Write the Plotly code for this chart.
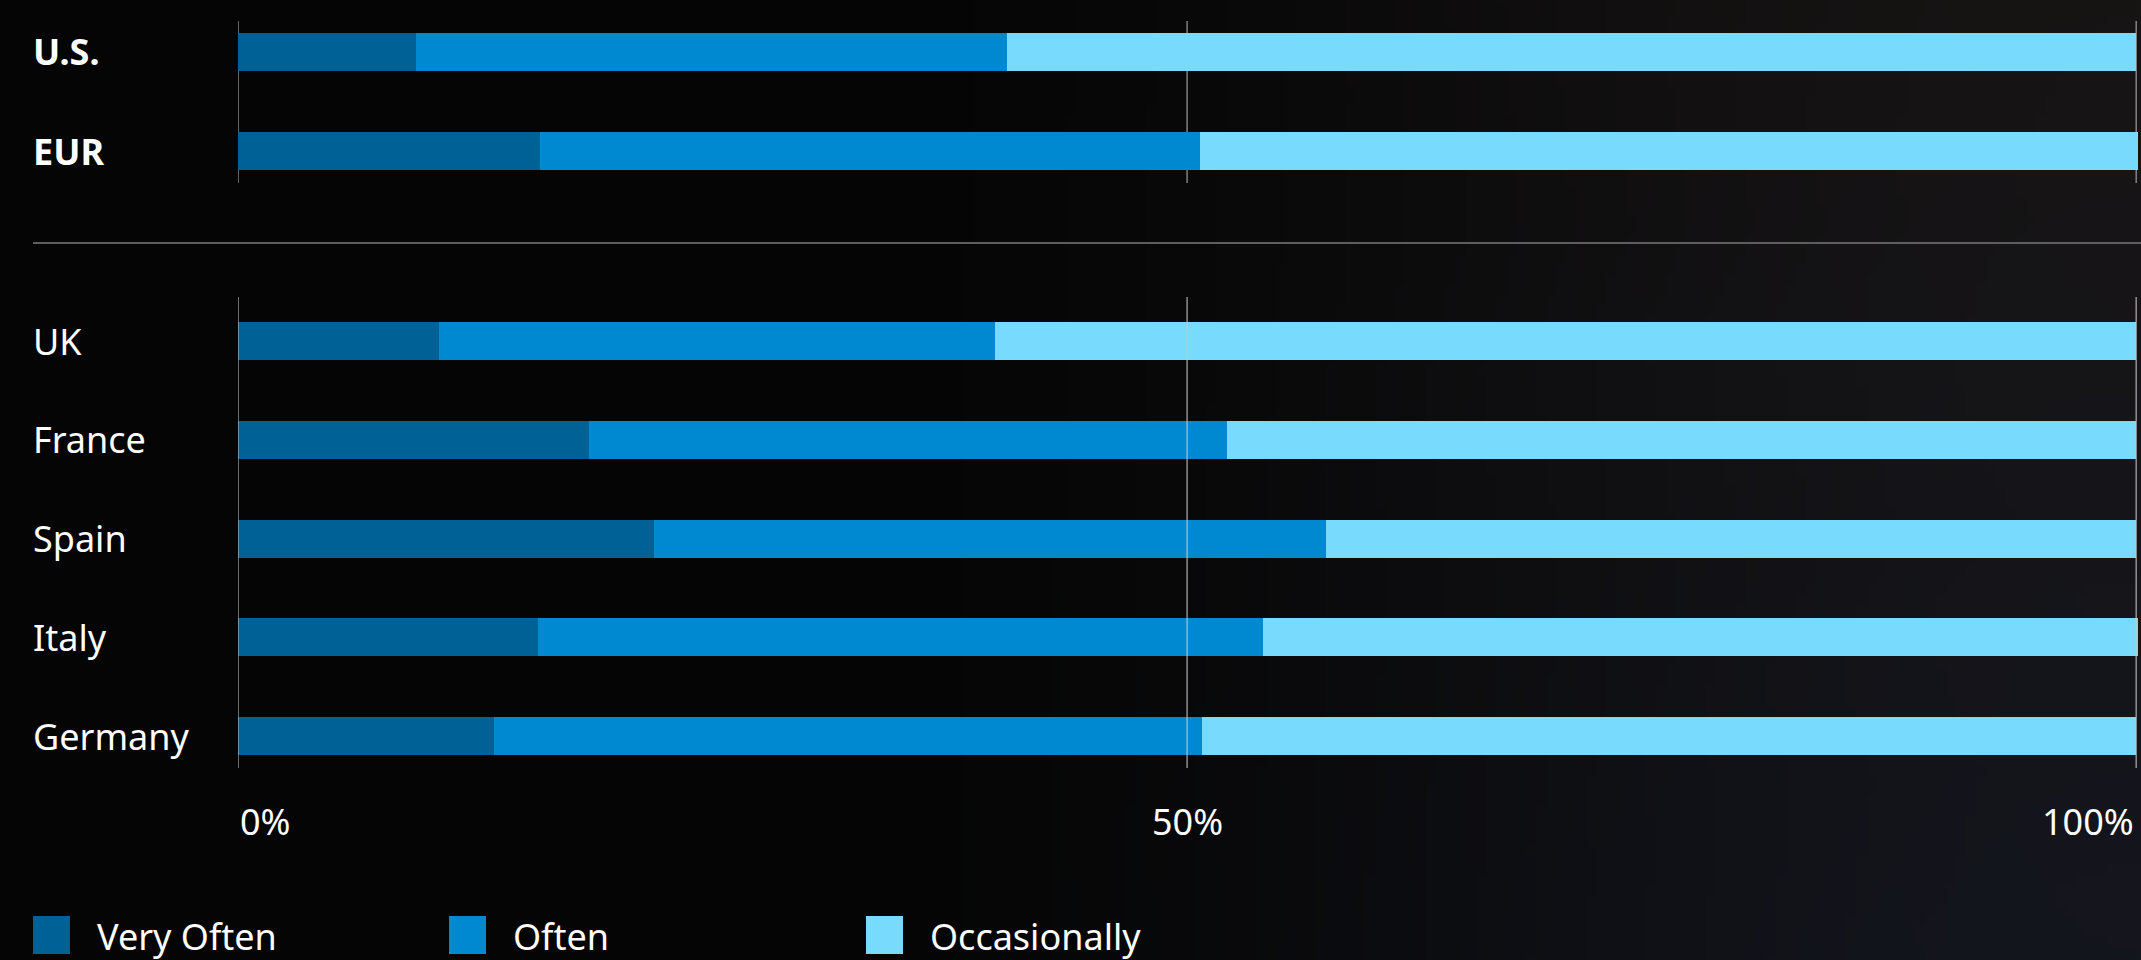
import base64
import struct
import zlib

import numpy as np
import plotly.graph_objects as go

# ---------------- data ----------------
summary_regions = ["U.S.", "EUR"]
countries = ["UK", "France", "Spain", "Italy", "Germany"]
series_names = ["Very Often", "Often", "Occasionally"]
series_colors = ["#006196", "#0089D1", "#78DBFE"]

summary_very_often = [9.4, 15.9]
summary_often = [31.1, 34.8]
summary_occasionally = [59.5, 49.4]

country_very_often = [10.6, 18.5, 21.9, 15.8, 13.5]
country_often = [29.3, 33.6, 35.4, 38.2, 37.3]
country_occasionally = [60.1, 47.9, 42.7, 46.1, 49.2]

tick_values = [0, 50, 100]
tick_labels = ["0%", "50%", "100%"]

# ---------------- canvas ----------------
W, H = 2141, 960


def px_x(p):
    return p / W


def px_y(p):
    return 1 - p / H


# dark background gradient (decor only)
def make_bg_png(w=214, h=96):
    xs = np.linspace(0, 1, w)[None, :]
    ys = np.linspace(0, 1, h)[:, None]
    t = np.clip((xs - 0.35) / 0.65, 0, 1)
    t = t * t * (3 - 2 * t)
    base = 5 + 15 * t + 0 * ys
    r = base + 3 * t * (1 - ys)
    g = base + 2 * t * ys
    b = base + 10 * t * ys
    arr = np.stack([r, g, b], axis=-1).clip(0, 255).astype(np.uint8)
    raw = b"".join(b"\x00" + arr[y].tobytes() for y in range(h))

    def chunk(tag, data):
        return (struct.pack(">I", len(data)) + tag + data
                + struct.pack(">I", zlib.crc32(tag + data) & 0xFFFFFFFF))

    png = (b"\x89PNG\r\n\x1a\n"
           + chunk(b"IHDR", struct.pack(">IIBBBBB", w, h, 8, 2, 0, 0, 0))
           + chunk(b"IDAT", zlib.compress(raw, 9))
           + chunk(b"IEND", b""))
    return "data:image/png;base64," + base64.b64encode(png).decode()


FONT = "Noto Sans"
FS = 36

fig = go.Figure()

top_sets = [summary_very_often, summary_often, summary_occasionally]
bot_sets = [country_very_often, country_often, country_occasionally]

for name, color, vals in zip(series_names, series_colors, top_sets):
    fig.add_trace(go.Bar(
        x=vals, y=summary_regions, orientation="h", name=name,
        marker=dict(color=color, line=dict(width=0)),
        width=0.384, xaxis="x", yaxis="y", showlegend=False,
        hoverinfo="skip",
    ))
for name, color, vals in zip(series_names, series_colors, bot_sets):
    fig.add_trace(go.Bar(
        x=vals, y=countries, orientation="h", name=name,
        marker=dict(color=color, line=dict(width=0)),
        width=0.385, xaxis="x2", yaxis="y2", showlegend=False,
        hoverinfo="skip",
    ))

x_dom = [px_x(238), px_x(2140)]
x_common = dict(domain=x_dom, range=[0, 100.2], showgrid=False, zeroline=False,
                showticklabels=False, showline=False, fixedrange=True)

fig.update_layout(
    width=W, height=H,
    margin=dict(l=0, r=0, t=0, b=0),
    paper_bgcolor="#0a0a0a",
    plot_bgcolor="rgba(0,0,0,0)",
    barmode="stack",
    showlegend=False,
    font=dict(family=FONT, size=FS, color="#ffffff"),
    xaxis=dict(**x_common, anchor="y"),
    xaxis2=dict(**x_common, anchor="y2"),
    yaxis=dict(domain=[px_y(183), px_y(21)], type="category",
               categoryarray=summary_regions, range=[1.323, -0.313],
               showgrid=False, zeroline=False, showticklabels=False,
               fixedrange=True, anchor="x"),
    yaxis2=dict(domain=[px_y(768), px_y(297)], type="category",
                categoryarray=countries, range=[4.324, -0.446],
                showgrid=False, zeroline=False, showticklabels=False,
                fixedrange=True, anchor="x2"),
    images=[dict(source=make_bg_png(), xref="paper", yref="paper",
                 x=0, y=1, sizex=1, sizey=1, sizing="stretch",
                 xanchor="left", yanchor="top", layer="below")],
)

shapes = []
# vertical reference lines at the axis ticks
for v in tick_values:
    shapes.append(dict(type="line", xref="x", yref="y domain", x0=v, x1=v,
                       y0=0, y1=1, layer="below",
                       line=dict(color="rgba(170,170,170,0.75)", width=1.5)))
    shapes.append(dict(type="line", xref="x2", yref="y2 domain", x0=v, x1=v,
                       y0=0, y1=1, layer="above",
                       line=dict(color="rgba(200,200,200,0.7)", width=1.5)))
# separator between summary and countries
shapes.append(dict(type="line", xref="paper", yref="paper",
                   x0=px_x(33), x1=1, y0=px_y(243), y1=px_y(243),
                   line=dict(color="#5e5e5e", width=2)))

annotations = []
for r in summary_regions:
    annotations.append(dict(text="<b>" + r + "</b>", xref="paper", yref="y",
                            x=px_x(31), y=r, xanchor="left", yanchor="middle",
                            showarrow=False,
                            font=dict(family=FONT, size=FS, color="#ffffff")))
for c in countries:
    annotations.append(dict(text=c, xref="paper", yref="y2",
                            x=px_x(31), y=c, xanchor="left", yanchor="middle",
                            showarrow=False,
                            font=dict(family=FONT, size=FS, color="#ffffff")))
anchors = ["left", "center", "right"]
for v, lab, a in zip(tick_values, tick_labels, anchors):
    annotations.append(dict(text=lab, xref="x2", yref="paper", x=v,
                            y=px_y(821), xanchor=a, yanchor="middle",
                            showarrow=False,
                            font=dict(family=FONT, size=FS, color="#ffffff")))

# legend drawn as swatches + labels
legend_x = [33, 449, 866]
for lx, name, color in zip(legend_x, series_names, series_colors):
    shapes.append(dict(type="rect", xref="paper", yref="paper",
                       x0=px_x(lx), x1=px_x(lx + 37),
                       y0=px_y(954), y1=px_y(916),
                       fillcolor=color, line=dict(width=0)))
    annotations.append(dict(text=name, xref="paper", yref="paper",
                            x=px_x(lx + 62), y=px_y(936), xanchor="left",
                            yanchor="middle", showarrow=False,
                            font=dict(family=FONT, size=FS, color="#ffffff")))

fig.update_layout(shapes=shapes, annotations=annotations)

fig.write_html(
    "out.html",
    config={"displayModeBar": False},
    post_script=("document.body.style.margin='0';"
                 "document.body.style.overflow='hidden';"
                 "document.body.style.background='#0a0a0a';"),
)
